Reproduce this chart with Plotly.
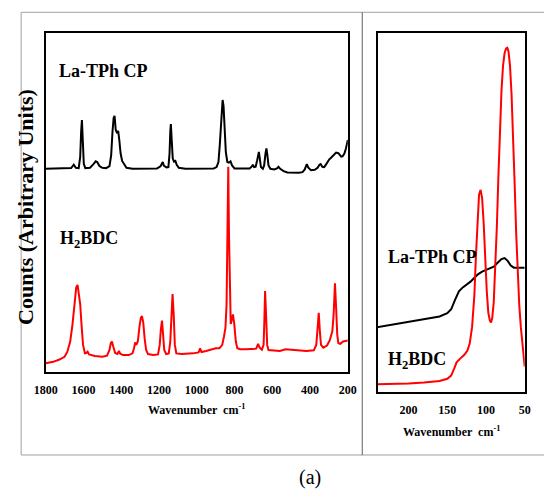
import plotly.graph_objects as go

W, H = 544, 489

# ---------------- data ----------------
# Left panel: wavenumber (cm-1) and counts (arbitrary units, 0-100 scale)
la_wn = [1800, 1760, 1700, 1665, 1651, 1640, 1625, 1617, 1612, 1608, 1603, 1598, 1590, 1565, 1548, 1535, 1527,
         1515, 1500, 1480, 1462, 1453, 1446, 1440, 1435, 1429, 1422, 1416, 1410, 1403, 1395, 1385, 1372, 1340,
         1300, 1250, 1210, 1192, 1185, 1180, 1174, 1160, 1150, 1144, 1140, 1137, 1132, 1127, 1120, 1113, 1106,
         1095, 1060, 1000, 950, 910, 895, 885, 878, 872, 867, 863, 858, 852, 846, 838, 830, 821, 813, 800, 760,
         720, 708, 703, 696, 688, 680, 675, 671, 666, 660, 650, 643, 636, 631, 626, 620, 610, 590, 575, 567, 558,
         540, 520, 490, 460, 440, 428, 420, 417, 410, 395, 375, 360, 350, 344, 335, 325, 315, 305, 298, 290, 280,
         270, 262, 250, 242, 235, 228, 218, 210, 205, 200]
la_counts = [60, 60, 60, 60.2, 61.2, 60.3, 60.2, 63.5, 71, 74.4, 68, 61.5, 60.2, 60.3, 61.3, 62.2, 62,
             60.8, 60.3, 60.2, 60.8, 64, 71, 75, 75.6, 71.5, 70.5, 71.2, 68.5, 64.5, 62.3, 61.3, 60.3, 60,
             60, 60, 60.1, 60.7, 61.8, 62, 60.9, 60.4, 60.5, 64.5, 71, 73.2, 68, 63, 62.1, 62.3, 61.2,
             60.3, 60, 60, 59.9, 60.1, 60.5, 62, 67, 74, 79.5, 80.3, 78.5, 72, 65, 62, 61.8, 62.2, 61, 60.1, 60,
             60.1, 60.7, 61.2, 60.5, 60.6, 62.5, 64.5, 65, 63, 60.5, 60, 61, 64.5, 66, 64, 61, 60, 59.8, 60.1, 60.6, 60,
             59.3, 58.9, 58.8, 58.8, 59, 59.8, 61, 61.4, 60.4, 59.6, 59.7, 60.3, 61.2, 61.4, 60.6, 60.5, 61.3, 62.3, 62.8, 63.2, 63.8,
             64.5, 64.8, 64.6, 64, 63.6, 63.7, 64.5, 66, 67.3, 68.5]

h2_wn = [1800, 1760, 1730, 1700, 1685, 1670, 1658, 1648, 1638, 1631, 1624, 1617, 1610, 1602, 1592, 1585, 1578,
         1570, 1540, 1500, 1475, 1462, 1455, 1449, 1442, 1432, 1420, 1412, 1405, 1390, 1360, 1340, 1332, 1326,
         1320, 1312, 1303, 1296, 1290, 1283, 1276, 1268, 1258, 1230, 1205, 1196, 1190, 1184, 1178, 1172, 1162,
         1148, 1140, 1134, 1128, 1122, 1116, 1108, 1080, 1020, 990, 982, 975, 950, 920, 900, 880, 865, 856, 848,
         842, 837, 833, 829, 825, 820, 814, 808, 801, 793, 785, 770, 740, 700, 685, 675, 667, 655, 646, 642, 638,
         633, 627, 620, 600, 560, 530, 500, 460, 420, 380, 367, 360, 354, 348, 342, 330, 310, 296, 289, 282, 275,
         268, 262, 256, 250, 240, 225, 205, 200]
h2_counts = [2.6, 3.0, 3.6, 4.5, 6, 9, 14, 20, 25, 25.7, 23, 20, 14, 8, 5.5, 5.6, 6,
             5.2, 4.7, 4.5, 4.8, 6.5, 8.5, 9, 7.5, 5.6, 5.3, 6.2, 5.4, 5, 5, 5.5, 7, 8.7,
             8, 9, 13.5, 16, 16.5, 14.5, 10, 6.5, 5.3, 5, 5.2, 8, 12.5, 15.2, 11, 6.5, 5.3,
             5.5, 9, 18, 23, 17, 8, 5.5, 5.3, 5.5, 5.8, 7, 5.9, 6.2, 6.8, 7, 7, 8, 10.4, 13,
             20, 38, 60.6, 40, 22, 14.2, 15.5, 17, 14, 9, 7, 6.7, 6.7, 6.7, 6.9, 8.3, 7.2, 6.6, 8, 15, 23.9,
             17, 8, 6.5, 6.4, 6.2, 6.7, 6.6, 6.3, 6.2, 6.4, 8, 13, 17.5, 12, 8, 7.2, 7.8, 9.3, 10.9, 12, 17,
             26.2, 19, 11, 8.5, 8.3, 9, 9.2, 9.3]

# Right panel (low wavenumber)
la_low_wn = [241, 220, 200, 180, 170, 160, 150, 145, 140, 135, 130, 125, 120, 115, 110, 105, 100, 95, 90, 85,
             80, 76, 72, 68, 64, 60, 50]
la_low_counts = [18, 18.8, 19.5, 20.2, 20.5, 21, 21.9, 23, 25.6, 28, 29.1, 29.8, 30.7, 31.8, 32.8, 33.5, 34,
                 34.3, 34.9, 36, 37, 37.3, 36.5, 35.2, 34.6, 34.6, 34.6]
h2_low_wn = [241, 220, 200, 180, 160, 150, 145, 141, 138, 133, 128, 124, 121, 118, 115, 113, 111, 109, 107,
             105, 103, 101, 99, 97, 95, 93.5, 92, 90, 88, 86, 84, 82, 80, 78, 76, 74, 72.5, 71, 69, 67, 65, 63,
             61, 59, 57, 55, 53, 50]
h2_low_counts = [2.1, 2.2, 2.3, 2.6, 3.0, 3.6, 4.5, 6.5, 8.2, 9.3, 10.3, 11.5, 13.5, 18, 27, 38, 48, 55, 56.3,
                 54, 47, 37, 28, 22, 19.8, 19.3, 20.5, 25, 34, 46, 60, 73, 84, 91, 94.5, 95.8, 96, 95, 91, 83,
                 72, 58, 44, 32, 24, 18, 13, 7]

left_ticks = [1800, 1600, 1400, 1200, 1000, 800, 600, 400, 200]
right_ticks = [200, 150, 100, 50]

SERIF = "Liberation Serif"


def px_x(p):
    return p / W


def px_y(p):
    return 1 - p / H


fig = go.Figure()
fig.add_trace(go.Scatter(x=la_wn, y=la_counts, mode="lines", line=dict(color="black", width=2),
                         xaxis="x", yaxis="y", showlegend=False))
fig.add_trace(go.Scatter(x=h2_wn, y=h2_counts, mode="lines", line=dict(color="#ff0000", width=2),
                         xaxis="x", yaxis="y", showlegend=False))
fig.add_trace(go.Scatter(x=la_low_wn, y=la_low_counts, mode="lines", line=dict(color="black", width=2),
                         xaxis="x2", yaxis="y2", showlegend=False))
fig.add_trace(go.Scatter(x=h2_low_wn, y=h2_low_counts, mode="lines", line=dict(color="#ff0000", width=2),
                         xaxis="x2", yaxis="y2", showlegend=False))

axis_common = dict(showline=True, mirror=True, linecolor="black", linewidth=2, showgrid=False,
                   zeroline=False, ticks="")
tickfont = dict(family=SERIF, size=12, color="black", weight="bold")

fig.update_layout(
    width=W, height=H,
    margin=dict(l=0, r=0, t=0, b=0),
    paper_bgcolor="white", plot_bgcolor="white",
    xaxis=dict(domain=[px_x(35), px_x(349.3)], range=[1800, 200], tickvals=left_ticks,
               tickfont=tickfont, anchor="y", ticklabelstandoff=6, **axis_common),
    yaxis=dict(domain=[px_y(372), px_y(33.3)], range=[0, 100], showticklabels=False,
               anchor="x", **axis_common),
    xaxis2=dict(domain=[px_x(380.3), px_x(533.3)], range=[240, 50], tickvals=right_ticks,
                tickfont=tickfont, anchor="y2", ticklabelstandoff=6, **axis_common),
    yaxis2=dict(domain=[px_y(391.7), px_y(33.3)], range=[0, 100], showticklabels=False,
                anchor="x2", **axis_common),
)

# outer gray frame and divider
fig.add_shape(type="rect", xref="paper", yref="paper", x0=px_x(9.5), x1=1.05, y0=px_y(455), y1=px_y(12.3),
              line=dict(color="#a0a0a0", width=1), layer="below")
fig.add_shape(type="line", xref="paper", yref="paper", x0=px_x(364.3), x1=px_x(364.3), y0=px_y(455),
              y1=px_y(12.3), line=dict(color="#606060", width=1), layer="below")

lab_font = dict(family=SERIF, size=18, color="black")


def ann(text, x, y, font, xanchor="left", angle=0):
    fig.add_annotation(text=text, xref="paper", yref="paper", x=px_x(x), y=px_y(y), showarrow=False,
                       xanchor=xanchor, yanchor="middle", font=font, textangle=angle)


ann("<b>La-TPh CP</b>", 47, 71, lab_font)
ann("<b>H<sub>2</sub>BDC</b>", 47.5, 239, lab_font)
ann("<b>La-TPh CP</b>", 389, 257, lab_font)
ann("<b>H<sub>2</sub>BDC</b>", 389, 360, lab_font)

title_font = dict(family=SERIF, size=12, color="black")
ann("<b>Wavenumber  cm<sup>-1</sup></b>", 192, 409, title_font, xanchor="center")
ann("<b>Wavenumber  cm<sup>-1</sup></b>", 457, 431, title_font, xanchor="center")
ann("<b>Counts (Arbitrary Units)</b>", 14, 206.5, dict(family=SERIF, size=22, color="black"),
    xanchor="center", angle=-90)
ann("(a)", 310, 477, dict(family=SERIF, size=20, color="black"), xanchor="center")

fig.write_html("out.html")
